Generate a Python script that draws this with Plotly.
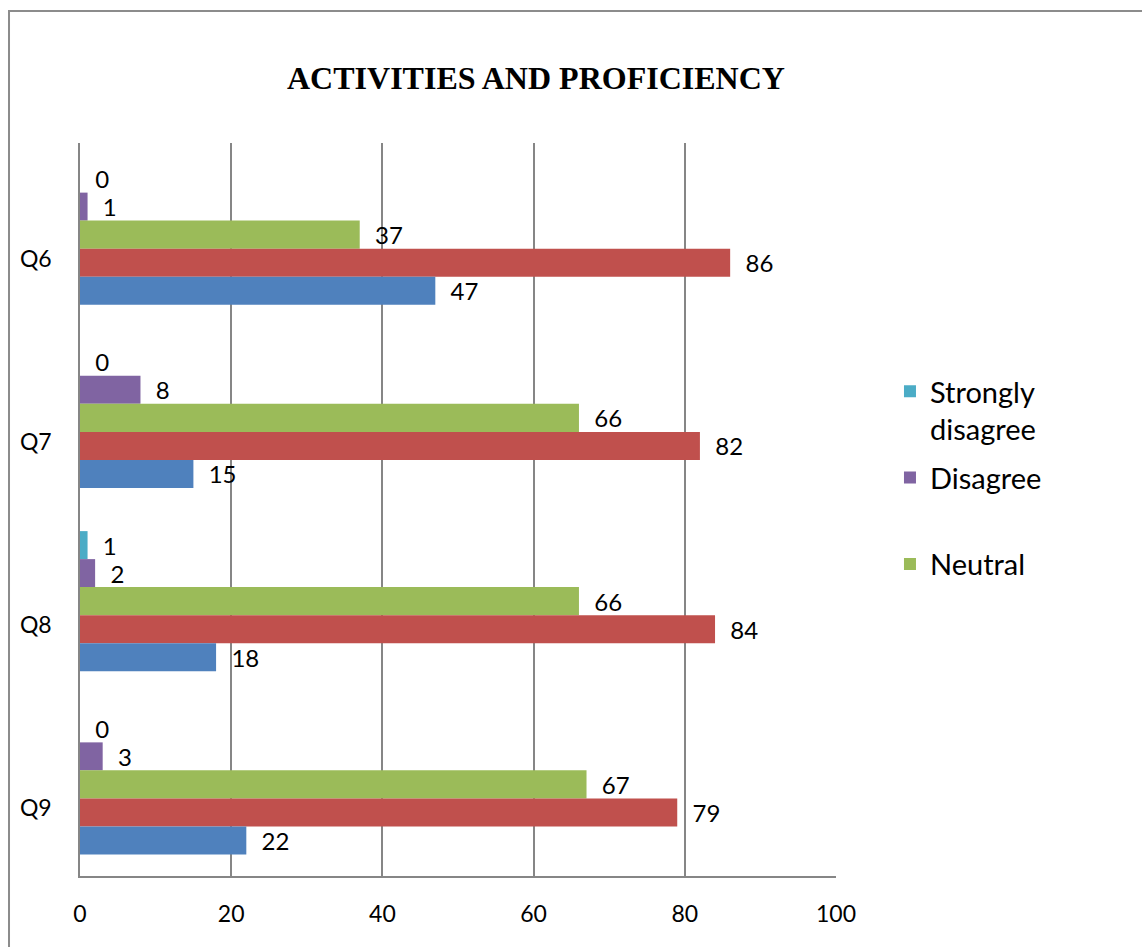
import plotly.graph_objects as go

# Survey questions and response counts per answer
questions = ["Q6", "Q7", "Q8", "Q9"]
strongly_disagree = [0, 0, 1, 0]
disagree = [1, 8, 2, 3]
neutral = [37, 66, 66, 67]
agree = [86, 82, 84, 79]
strongly_agree = [47, 15, 18, 22]

x_ticks = [0, 20, 40, 60, 80, 100]

FONT = "Lato, Calibri, Carlito, sans-serif"
NB = "\u00a0\u00a0"

series = [
    ("Strongly<br>disagree", strongly_disagree, "#4BACC6", True),
    ("Disagree<br> ", disagree, "#8064A2", True),
    ("Neutral", neutral, "#9BBB59", True),
    ("Agree", agree, "#C0504D", False),
    ("Strongly agree", strongly_agree, "#4F81BD", False),
]

fig = go.Figure()
for i, (name, vals, color, show) in enumerate(series):
    fig.add_trace(go.Bar(
        y=questions,
        x=vals,
        name=name,
        legendgroup="g%d" % i,
        orientation="h",
        marker=dict(color=color, line=dict(width=0)),
        text=[NB + str(v) for v in vals],
        textposition="outside",
        constraintext="none",
        cliponaxis=False,
        textfont=dict(family=FONT, size=24, color="#000000"),
        showlegend=show,
        hoverinfo="skip",
    ))

fig.update_layout(
    width=1142,
    height=947,
    margin=dict(l=80, r=306, t=143, b=71),
    paper_bgcolor="white",
    plot_bgcolor="white",
    barmode="group",
    bargap=0.236,
    bargroupgap=0,
    font=dict(family=FONT, size=23, color="#000000"),
    legend=dict(
        x=1.0714, xanchor="left",
        y=0.696, yanchor="top",
        font=dict(family=FONT, size=29, color="#000000"),
        valign="top",
        traceorder="grouped",
        tracegroupgap=8,
        bgcolor="rgba(0,0,0,0)",
    ),
    xaxis=dict(
        range=[0, 100],
        tickvals=x_ticks,
        showgrid=True,
        gridcolor="#868686",
        gridwidth=1.5,
        zeroline=False,
        showline=True,
        linecolor="#868686",
        linewidth=1.5,
        ticks="",
        ticklabelstandoff=17,
        tickfont=dict(family=FONT, size=23),
        fixedrange=True,
    ),
    yaxis=dict(
        categoryorder="array",
        categoryarray=questions,
        autorange="reversed",
        showgrid=False,
        zeroline=False,
        showline=True,
        linecolor="#868686",
        linewidth=1.5,
        ticks="",
        ticklabelstandoff=22,
        ticklabelshift=-24,
        tickfont=dict(family=FONT, size=23),
        fixedrange=True,
    ),
    annotations=[dict(
        text="<b>ACTIVITIES AND PROFICIENCY</b>",
        xref="paper", yref="paper",
        x=0.603, y=1.0887,
        xanchor="center", yanchor="middle",
        showarrow=False,
        font=dict(family="Liberation Serif, Times New Roman, serif", size=32, color="#000000"),
    )],
    shapes=[dict(
        type="rect",
        xref="paper", yref="paper",
        x0=-0.0939, x1=1.45, y0=-0.2, y1=1.180,
        line=dict(color="#8c8c8c", width=2),
        fillcolor="rgba(0,0,0,0)",
        layer="below",
    )],
)

fig.write_html("out.html")
